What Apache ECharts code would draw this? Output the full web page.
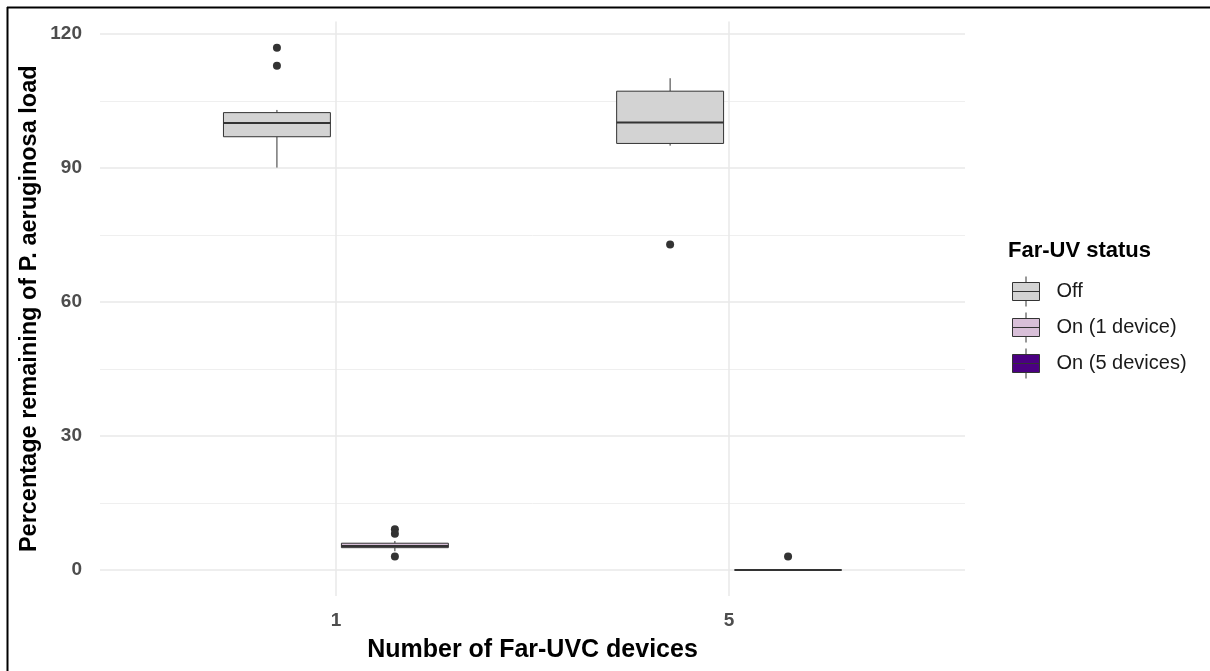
<!DOCTYPE html>
<html>
<head>
<meta charset="utf-8">
<script src="https://cdn.jsdelivr.net/npm/echarts@6/dist/echarts.min.js"></script>
<style>
  html, body { margin: 0; padding: 0; background: #fff; }
  #chart { width: 1210px; height: 671px; }
</style>
</head>
<body>
<div id="chart"></div>
<script>
// Categories on the x axis and fill groups
const deviceCounts = ['1', '5'];
const statusNames = ['Off', 'On (1 device)', 'On (5 devices)'];
const statusColors = ['#D3D3D3', '#D8BFD8', '#4B0082'];

// Box statistics per status: [device group index, lower whisker, Q1, median, Q3, upper whisker]
const offBoxes = [
  [0, 90.1, 97.0, 100.1, 102.4, 103.0],
  [1, 95.0, 95.5, 100.2, 107.2, 110.1]
];
const on1Boxes = [
  [0, 4.2, 5.0, 5.4, 6.0, 6.5]
];
const on5Boxes = [
  [1, 0, 0, 0, 0, 0]
];

// Outliers per status: [device group index, value]
const offOutliers = [[0, 116.9], [0, 112.9], [1, 72.9]];
const on1Outliers = [[0, 9.1], [0, 8.1], [0, 3.0]];
const on5Outliers = [[1, 3.0]];

// Y axis tick labels and minor grid positions
const yTicks = [0, 30, 60, 90, 120];
const yMinorTicks = [15, 45, 75, 105];

// Layout constants for dodged boxes
const DODGE = 0.15;     // offset from group centre (x units)
const HALF_W = 0.136;   // half box width (x units)
const FONT = '"Liberation Sans", Arial, sans-serif';

function dodgeX(groupIdx, statusIdx) {
  return groupIdx + 1 + (statusIdx === 0 ? -DODGE : DODGE);
}

function boxData(rows, statusIdx) {
  return rows.map(r => [dodgeX(r[0], statusIdx), r[1], r[2], r[3], r[4], r[5]]);
}
function outlierData(rows, statusIdx) {
  return rows.map(r => [dodgeX(r[0], statusIdx), r[1]]);
}

function renderBox(params, api) {
  const x = api.value(0);
  const lo = api.value(1), q1 = api.value(2), med = api.value(3), q3 = api.value(4), hi = api.value(5);
  const tl = api.coord([x - HALF_W, q3]);
  const br = api.coord([x + HALF_W, q1]);
  const cHi = api.coord([x, hi]), cQ3 = api.coord([x, q3]);
  const cQ1 = api.coord([x, q1]), cLo = api.coord([x, lo]);
  const mL = api.coord([x - HALF_W, med]), mR = api.coord([x + HALF_W, med]);
  const stroke = '#333333';
  return {
    type: 'group',
    children: [
      { type: 'line', shape: { x1: cHi[0], y1: cHi[1], x2: cQ3[0], y2: cQ3[1] }, style: { stroke: stroke, lineWidth: 1 } },
      { type: 'line', shape: { x1: cLo[0], y1: cLo[1], x2: cQ1[0], y2: cQ1[1] }, style: { stroke: stroke, lineWidth: 1 } },
      { type: 'rect', shape: { x: tl[0], y: tl[1], width: br[0] - tl[0], height: br[1] - tl[1] },
        style: { fill: api.visual('color'), stroke: stroke, lineWidth: 1 } },
      { type: 'line', shape: { x1: mL[0], y1: mL[1], x2: mR[0], y2: mR[1] }, style: { stroke: stroke, lineWidth: 2 } }
    ]
  };
}

const boxSets = [offBoxes, on1Boxes, on5Boxes];
const outlierSets = [offOutliers, on1Outliers, on5Outliers];

const series = [];
statusNames.forEach((name, i) => {
  series.push({
    name: name,
    type: 'custom',
    renderItem: renderBox,
    itemStyle: { color: statusColors[i] },
    encode: { x: 0, y: [1, 2, 3, 4, 5] },
    data: boxData(boxSets[i], i),
    silent: true,
    z: 3
  });
});
statusNames.forEach((name, i) => {
  series.push({
    name: name + ' outliers',
    type: 'scatter',
    symbolSize: 8,
    itemStyle: { color: '#333333', opacity: 1 },
    data: outlierData(outlierSets[i], i),
    silent: true,
    z: 4
  });
});

const keyIcon = 'path://M0,6 L27,6 L27,24 L0,24 Z M0,15 L27,15 M13.5,0 L13.5,6 M13.5,24 L13.5,30';

const chart = echarts.init(document.getElementById('chart'), null, { renderer: 'canvas' });
chart.setOption({
  animation: false,
  backgroundColor: '#ffffff',
  grid: { left: 100, right: 245, top: 21.5, bottom: 75, containLabel: false },
  title: {
    text: 'Far-UV status',
    left: 1003,
    top: 235,
    textStyle: { fontFamily: FONT, fontSize: 22, fontWeight: 'bold', color: '#000' }
  },
  legend: {
    orient: 'vertical',
    left: 1007,
    top: 271,
    itemWidth: 27,
    itemHeight: 30,
    itemGap: 5,
    selectedMode: false,
    textStyle: { fontFamily: FONT, fontSize: 20, color: '#1a1a1a', padding: [0, 0, 0, 12] },
    data: statusNames.map((n, i) => ({
      name: n,
      icon: keyIcon,
      itemStyle: { color: statusColors[i], borderColor: '#333333', borderWidth: 1 }
    }))
  },
  xAxis: {
    type: 'value',
    min: 0.4,
    max: 2.6,
    name: 'Number of Far-UVC devices',
    nameLocation: 'middle',
    nameGap: 42,
    nameTextStyle: { fontFamily: FONT, fontSize: 25, fontWeight: 'bold', color: '#000' },
    axisLine: { show: false },
    axisTick: { show: false, customValues: [1, 2] },
    axisLabel: {
      customValues: [1, 2],
      formatter: v => deviceCounts[Math.round(v) - 1],
      margin: 15,
      fontFamily: FONT, fontSize: 19, fontWeight: 'bold', color: '#4D4D4D'
    },
    splitLine: { show: true, lineStyle: { color: '#E8E8E8', width: 1.5 } }
  },
  yAxis: [
    {
      type: 'value',
      min: -5.82,
      max: 122.8,
      name: 'Percentage remaining of P. aeruginosa load',
      nameLocation: 'middle',
      nameGap: 58,
      nameMoveOverlap: false,
      nameTextStyle: { fontFamily: FONT, fontSize: 23.5, fontWeight: 'bold', color: '#000' },
      axisLine: { show: false },
      axisTick: { show: false, customValues: yTicks },
      axisLabel: {
        customValues: yTicks,
        margin: 18,
        fontFamily: FONT, fontSize: 19, fontWeight: 'bold', color: '#4D4D4D'
      },
      splitLine: { show: true, lineStyle: { color: '#E8E8E8', width: 1.5 } }
    },
    {
      type: 'value',
      min: -5.82,
      max: 122.8,
      position: 'left',
      axisLine: { show: false },
      axisTick: { show: false, customValues: yMinorTicks },
      axisLabel: { show: false, customValues: yMinorTicks },
      splitLine: { show: true, lineStyle: { color: '#EFEFEF', width: 1 } }
    }
  ],
  graphic: [
    { type: 'line', shape: { x1: 7, y1: 7.5, x2: 1210, y2: 7.5 }, style: { stroke: '#000', lineWidth: 2 }, silent: true },
    { type: 'line', shape: { x1: 7.5, y1: 7, x2: 7.5, y2: 671 }, style: { stroke: '#000', lineWidth: 2 }, silent: true }
  ],
  series: series
});
</script>
</body>
</html>
